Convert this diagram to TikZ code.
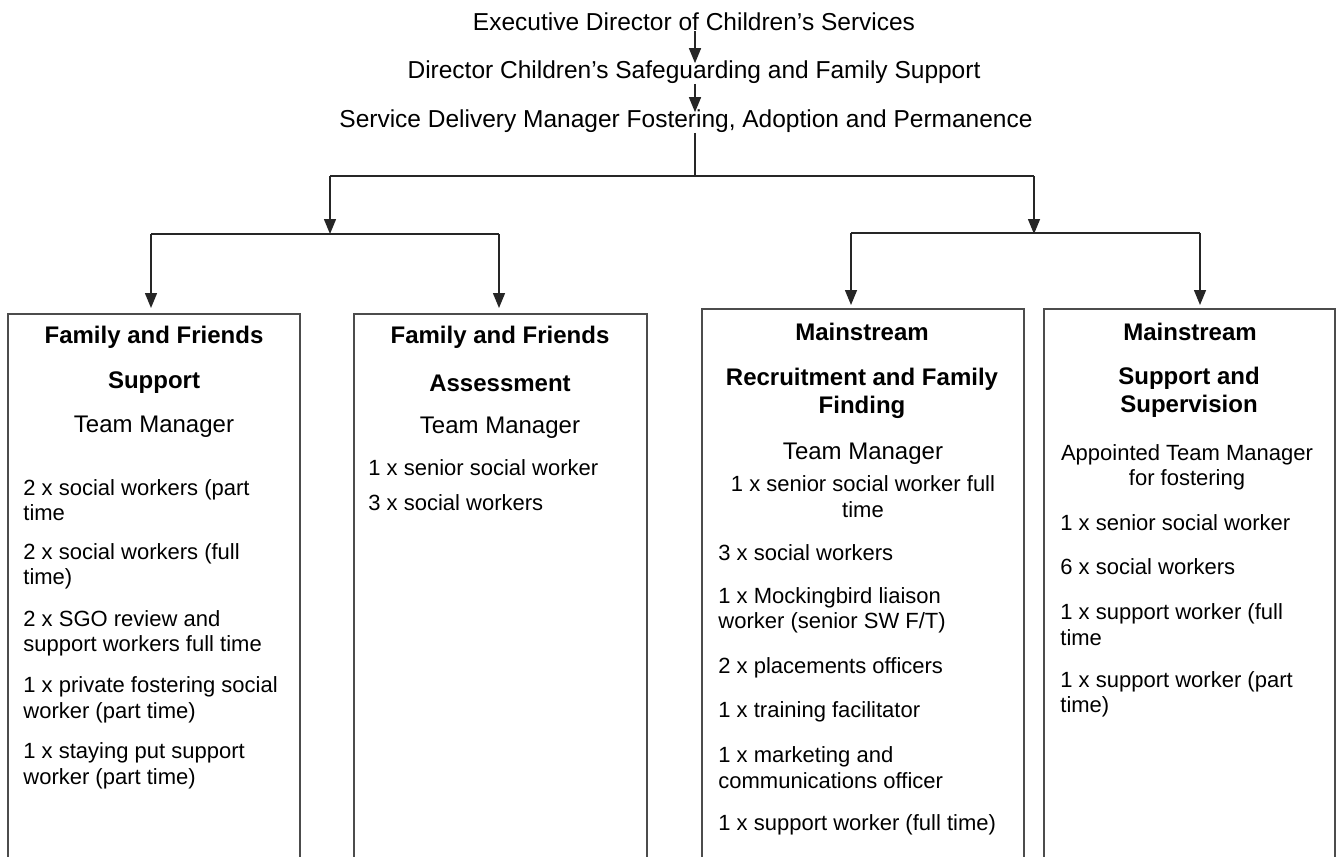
\documentclass[tikz,border=0pt]{standalone}
\usepackage{fontspec}
\setmainfont{Liberation Sans}
\usetikzlibrary{arrows.meta}
\newcommand{\bodyfont}{\fontsize{11}{12.75}\selectfont}
\newcommand{\headfont}{\fontsize{12}{14}\selectfont\bfseries}
\newcommand{\tmfont}{\fontsize{12}{14}\selectfont}
\newcommand{\titlefont}{\fontsize{12.25}{14}\selectfont}
\begin{document}
\begin{tikzpicture}[x=0.5pt,y=-0.5pt,
  title/.style={font=\titlefont, inner sep=0pt},
  head/.style={font=\headfont, align=center, inner sep=0pt},
  tm/.style={font=\tmfont, inner sep=0pt},
  item/.style={font=\bodyfont, align=left, anchor=west, inner sep=0pt},
  citem/.style={font=\bodyfont, align=center, inner sep=0pt},
  boxarea/.style={draw=none, inner sep=0pt, anchor=north west},
  conn/.style={draw=black!85, line width=0.7pt},
  arr/.style={conn, -{Triangle[width=6pt,length=7.5pt]}},
  boxline/.style={draw=black!70, line width=0.7pt}]
\useasboundingbox (0,0) rectangle (1336,856);
\fill[white] (0,0) rectangle (1336,856);

% titles
\node[title] (t1) at (694,22) {Executive Director of Children’s Services};
\node[title] (t2) at (694,72) {Director Children’s Safeguarding and Family Support};
\node[title] (t3) at (686,121) {Service Delivery Manager Fostering, Adoption and Permanence};

% boxes
\node[boxarea, minimum width=145.5pt, minimum height=271pt] (b1) at (8,314) {};
\node[boxarea, minimum width=146pt, minimum height=271pt] (b2) at (354,314) {};
\node[boxarea, minimum width=160.5pt, minimum height=273.5pt] (b3) at (702,309) {};
\node[boxarea, minimum width=145pt, minimum height=273.5pt] (b4) at (1044,309) {};
\foreach \b in {b1,b2,b3,b4}
  \draw[boxline] (\b.south west) -- (\b.north west) -- (\b.north east) -- (\b.south east);

% connectors
\coordinate (j0) at (695,176);
\coordinate (jl) at (330,176);
\coordinate (jr) at (1034,176);
\coordinate (kl) at (330,234);
\coordinate (kr) at (1034,234);
\coordinate (l1) at (151,234);
\coordinate (l2) at (499,234);
\coordinate (r1) at (851,233);
\coordinate (r2) at (1200,233);

\draw[arr, shorten >=-1.5pt] (t1.south -| j0) -- (t2.north -| j0);
\draw[arr, shorten >=-1.5pt] (t2.south -| j0) -- (t3.north -| j0);
\draw[conn] (t3.south -| j0) -- (j0);
\draw[conn] (jl) -- (jr);
\draw[arr] (jl) -- (kl);
\draw[arr] (jr) -- (kr);
\draw[conn] (l1) -- (l2);
\draw[conn] (r1) -- (r2);
\draw[arr, shorten >=3pt] (l1) -- (l1 |- b1.north);
\draw[arr, shorten >=3pt] (l2) -- (l2 |- b2.north);
\draw[arr, shorten >=2pt] (r1) -- (r1 |- b3.north);
\draw[arr, shorten >=2pt] (r2) -- (r2 |- b4.north);

% box 1
\node[head] (h1a) at (154,337) {Family and Friends};
\node[head] (h1b) at (154,383) {Support};
\node[tm] (m1) at (154,427) {Team Manager};
\node[item] (i11) at (23,500) {2 x social workers (part\\time};
\node[item] (i12) at (23,566.5) {2 x social workers (full\\time)};
\node[item] (i13) at (23,633.5) {2 x SGO review and\\support workers full time};
\node[item] (i14) at (23,700) {1 x private fostering social\\worker (part time)};
\node[item] (i15) at (23,766) {1 x staying put support\\worker (part time)};

% box 2
\node[head] (h2a) at (500,337) {Family and Friends};
\node[head] (h2b) at (500,383) {Assessment};
\node[tm] (m2) at (500,428) {Team Manager};
\node[item] (i21) at (368,468) {1 x senior social worker};
\node[item] (i22) at (368,503) {3 x social workers};

% box 3
\node[head] (h3a) at (862,332) {Mainstream};
\node[head] (h3b) at (862,393) {Recruitment and Family\\Finding};
\node[tm] (m3) at (863,454) {Team Manager};
\node[citem] (i30) at (863,496.5) {1 x senior social worker full\\time};
\node[item] (i31) at (718,553) {3 x social workers};
\node[item] (i32) at (718,610.5) {1 x Mockingbird liaison\\worker (senior SW F/T)};
\node[item] (i33) at (718,668) {2 x placements officers};
\node[item] (i34) at (718,712) {1 x training facilitator};
\node[item] (i35) at (718,767.5) {1 x marketing and\\communications officer};
\node[item] (i36) at (718,825) {1 x support worker (full time)};

% box 4
\node[head] (h4a) at (1190,332) {Mainstream};
\node[head] (h4b) at (1189,392.5) {Support and\\Supervision};
\node[citem] (m4) at (1187,467.5) {Appointed Team Manager\\for fostering};
\node[item] (i41) at (1060,523) {1 x senior social worker};
\node[item] (i42) at (1060,567) {6 x social workers};
\node[item] (i43) at (1060,624.5) {1 x support worker (full\\time};
\node[item] (i44) at (1060,694.5) {1 x support worker (part\\time)};
\end{tikzpicture}
\end{document}
